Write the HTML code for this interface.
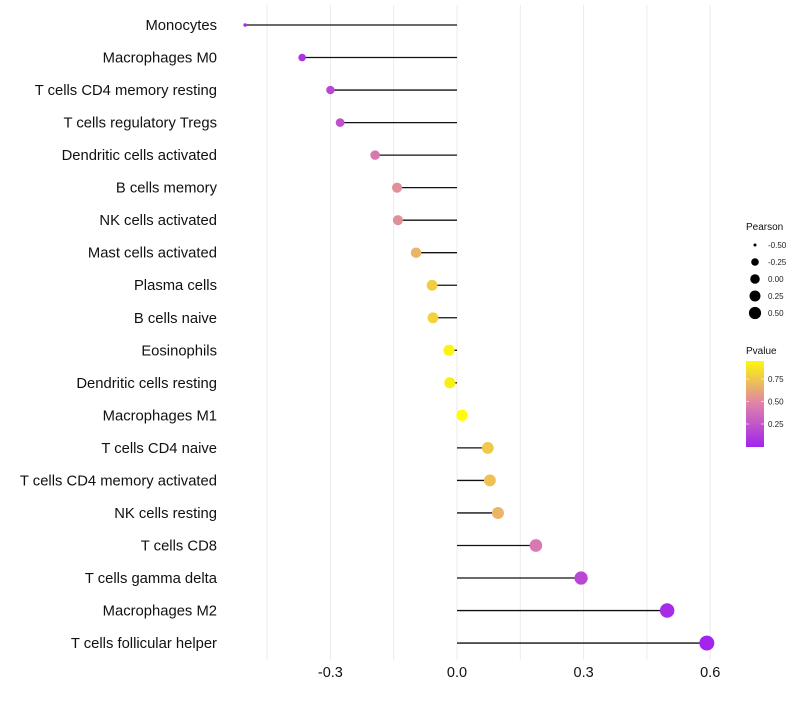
<!DOCTYPE html>
<html><head><meta charset="utf-8"><style>
body{margin:0;background:#fff;font-family:"Liberation Sans",sans-serif;}
</style></head><body>
<svg id="c" width="800" height="700" xmlns="http://www.w3.org/2000/svg"></svg>
<script>
const categories=["Monocytes","Macrophages M0","T cells CD4 memory resting","T cells regulatory  Tregs","Dendritic cells activated","B cells memory","NK cells activated","Mast cells activated","Plasma cells","B cells naive","Eosinophils","Dendritic cells resting","Macrophages M1","T cells CD4 naive","T cells CD4 memory activated","NK cells resting","T cells CD8","T cells gamma delta","Macrophages M2","T cells follicular helper"];
const pearson=[-0.502,-0.367,-0.30,-0.277,-0.194,-0.142,-0.14,-0.097,-0.059,-0.057,-0.019,-0.017,0.012,0.073,0.078,0.097,0.187,0.294,0.498,0.592];
const pvalue=[0.05,0.1,0.2,0.25,0.45,0.55,0.55,0.7,0.8,0.82,0.95,0.93,0.99,0.78,0.75,0.7,0.45,0.2,0.06,0.02];
const xTicks=[-0.3,0.0,0.3,0.6];
const sizeLegend=[-0.5,-0.25,0,0.25,0.5];
const colorTicks=[0.25,0.5,0.75];
const NS="http://www.w3.org/2000/svg";
const svg=document.getElementById('c');
function x(v){return 457+v*422;}
function y(i){return 25+i*32.53;}
function r(v){return 1.8+5.7*Math.sqrt(Math.max(0,(v+0.5)/1.1));}
function col(p){
  const stops=[[0,[160,32,240]],[0.5,[222,130,170]],[1,[255,255,0]]];
  p=Math.max(0,Math.min(1,p));
  let a=stops[0],b=stops[1];if(p>0.5){a=stops[1];b=stops[2];}
  const t=(p-a[0])/(b[0]-a[0]);
  return 'rgb('+a[1].map((c,k)=>Math.round(c+(b[1][k]-c)*t)).join(',')+')';
}
function el(t,at,txt){const e=document.createElementNS(NS,t);for(const k in at)e.setAttribute(k,at[k]);if(txt!==undefined)e.textContent=txt;svg.appendChild(e);return e;}
for(let v=-0.45;v<=0.61;v+=0.15){
  const g=el('line',{x1:x(v),x2:x(v),y1:5,y2:660,stroke:'#ebebeb','stroke-width':1});
  
  
}
xTicks.forEach(t=>{
  const e=el('text',{x:x(t),y:677,'text-anchor':'middle','font-size':14.5,fill:'#111'},t.toFixed(1));
  
  
});
categories.forEach((c,i)=>{
  const l=el('text',{x:217,y:y(i)+5,'text-anchor':'end','font-size':14.8,fill:'#111'},c);
  
  
  const s=el('line',{x1:x(0),x2:x(pearson[i]),y1:y(i),y2:y(i),stroke:'#111','stroke-width':1.3});
  
  
  const p=el('circle',{cx:x(pearson[i]),cy:y(i),r:r(pearson[i]),fill:col(pvalue[i])});
  
  
});
let t1=el('text',{x:746,y:230,'font-size':10,fill:'#111'},'Pearson');


sizeLegend.forEach((v,k)=>{
  const cy=245+k*17;
  const c=el('circle',{cx:755,cy:cy,r:1.5+4.6*Math.sqrt((v+0.5)/1.0),fill:'#000'});
  
  
  const t=el('text',{x:768,y:cy+3,'font-size':8,fill:'#222'},v.toFixed(2));
  
  
});
let t2=el('text',{x:746,y:354,'font-size':10,fill:'#111'},'Pvalue');


const defs=el('defs',{});
const lg=document.createElementNS(NS,'linearGradient');
lg.setAttribute('id','pg');lg.setAttribute('x1','0');lg.setAttribute('y1','1');lg.setAttribute('x2','0');lg.setAttribute('y2','0');
[[0,0.02],[0.5,0.5],[1,0.97]].forEach(([o,p])=>{const s=document.createElementNS(NS,'stop');s.setAttribute('offset',o);s.setAttribute('stop-color',col(p));lg.appendChild(s);});
defs.appendChild(lg);
const bar=el('rect',{x:746,y:361,width:18,height:86,fill:'url(#pg)'});


colorTicks.forEach(v=>{
  const cy=446.5-v*90;
  el('line',{x1:746,x2:749,y1:cy,y2:cy,stroke:'#fff','stroke-width':0.6});
  el('line',{x1:761,x2:764,y1:cy,y2:cy,stroke:'#fff','stroke-width':0.6});
  const t=el('text',{x:768,y:cy+3,'font-size':8,fill:'#222'},v.toFixed(2));
  
  
});
</script>
</body></html>
